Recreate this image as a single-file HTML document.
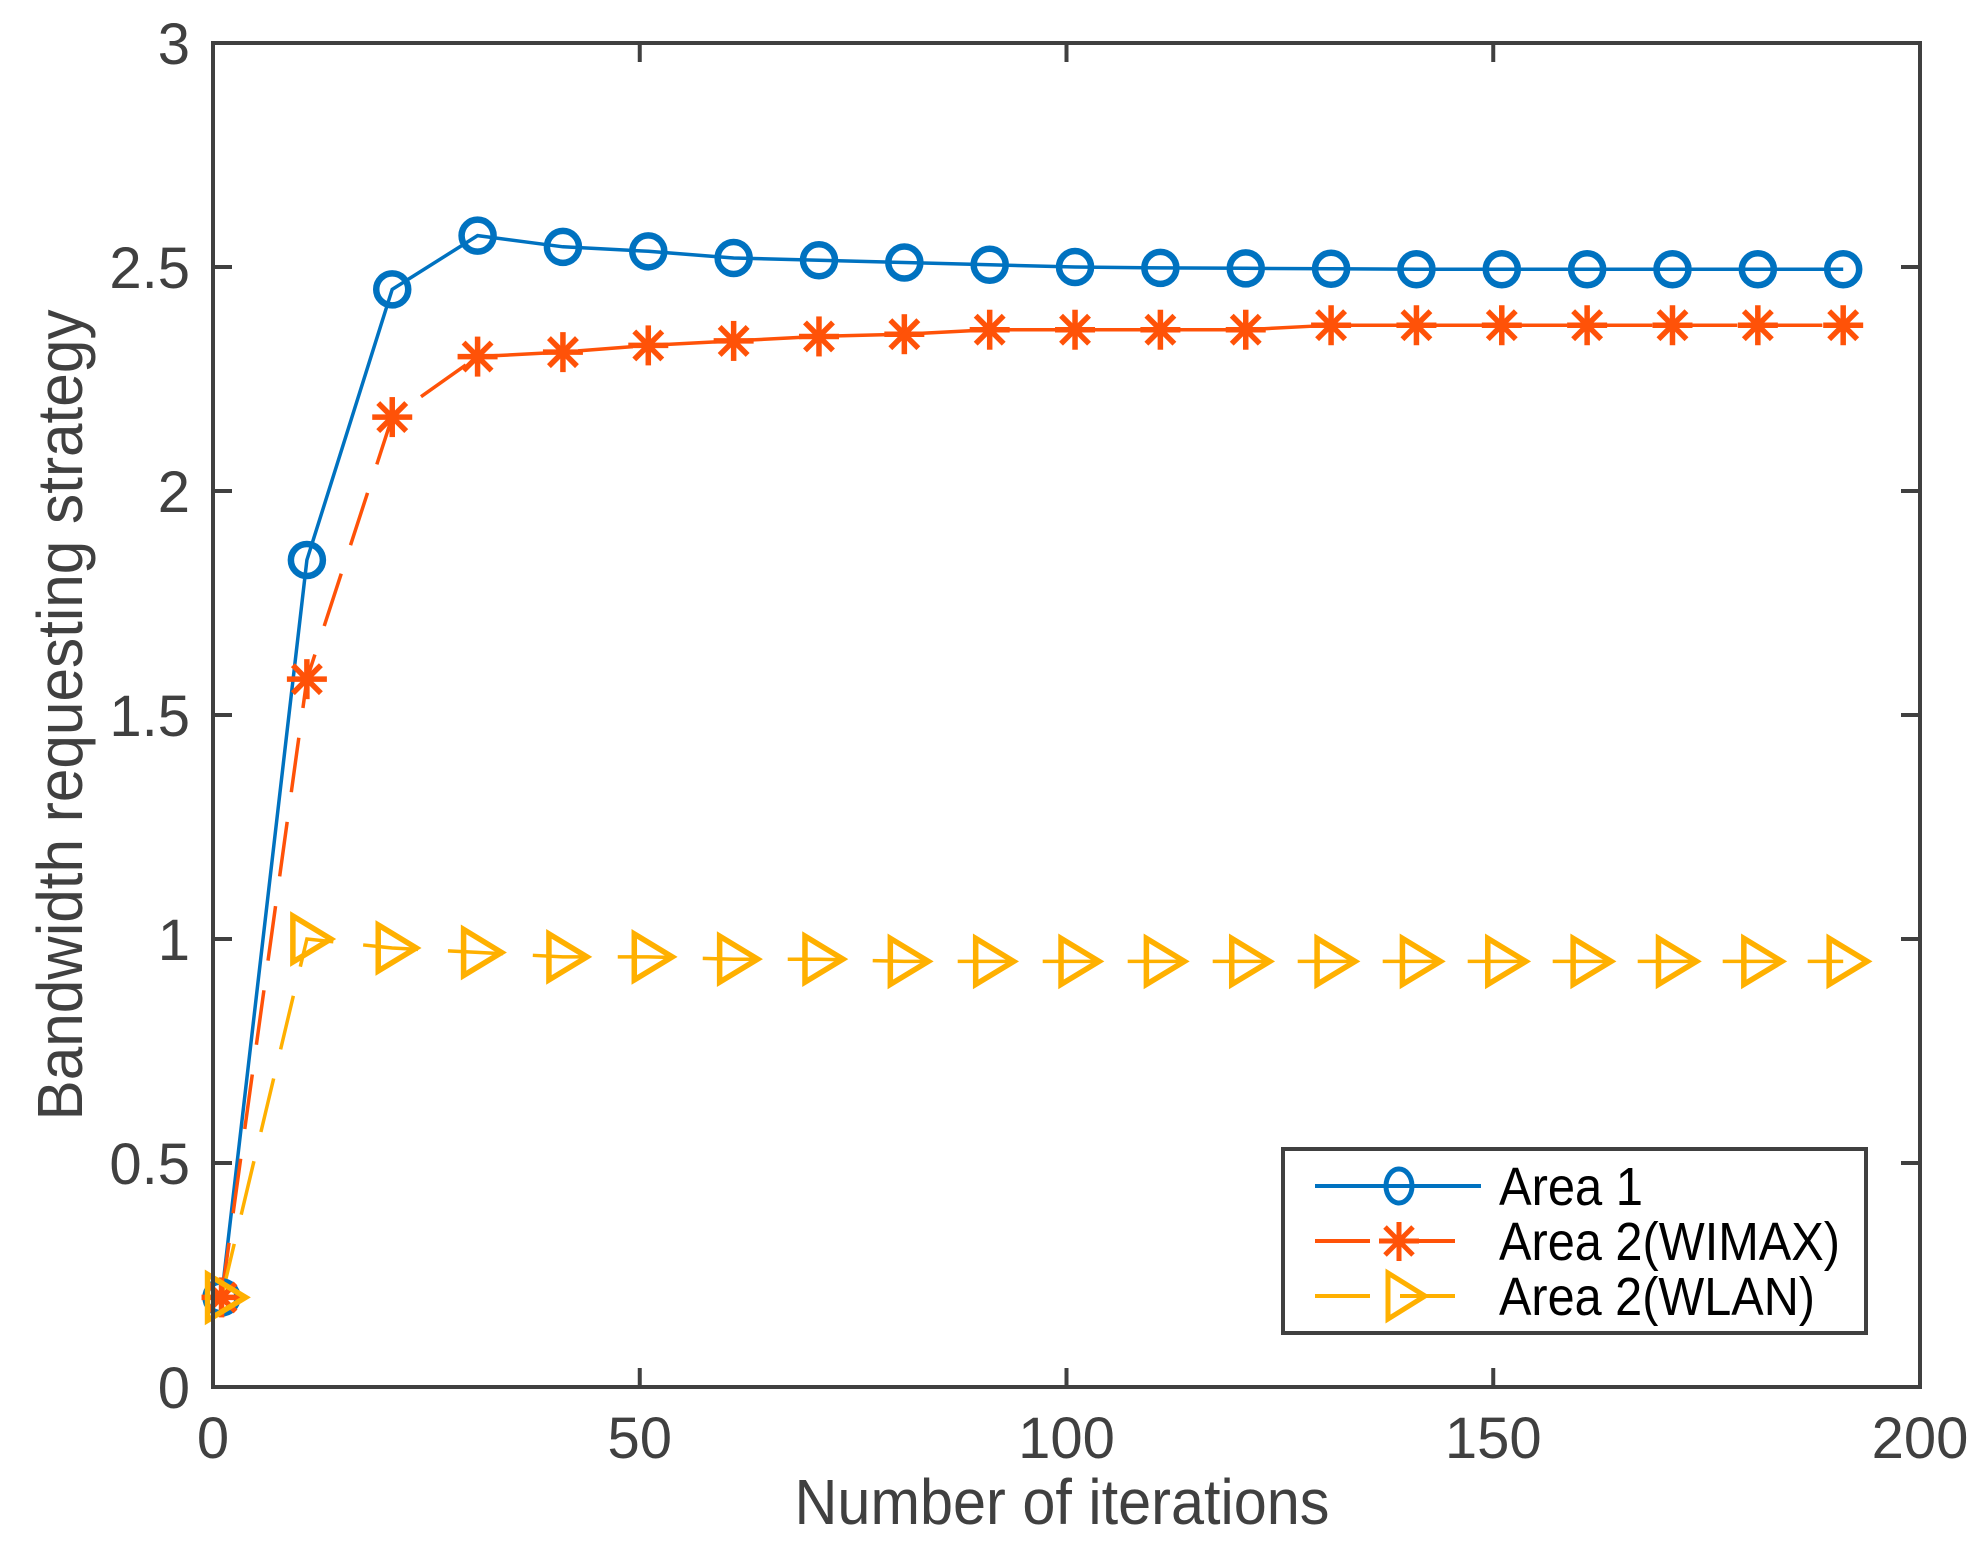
<!DOCTYPE html>
<html><head><meta charset="utf-8"><style>html,body{margin:0;padding:0;background:#fff}svg{display:block}</style></head>
<body>
<svg id="s" width="1980" height="1550" xmlns="http://www.w3.org/2000/svg" font-family="Liberation Sans, sans-serif">
<rect width="1980" height="1550" fill="#fff"/>
<g id="plot"></g>
<rect x="213" y="43" width="1707" height="1344" fill="none" stroke="#404040" stroke-width="4"/>
<g id="ticks" stroke="#404040" stroke-width="4"></g>
<g fill="#404040" font-size="58" id="labels"></g>
<text x="1062" y="1524" font-size="64" fill="#404040" text-anchor="middle" textLength="535" lengthAdjust="spacingAndGlyphs">Number of iterations</text>
<text transform="translate(82,715) rotate(-90)" font-size="64" fill="#404040" text-anchor="middle" textLength="811" lengthAdjust="spacingAndGlyphs">Bandwidth requesting strategy</text>
<rect x="1283" y="1149" width="583" height="184" fill="#fff" stroke="#404040" stroke-width="4"/>
<line x1="1315" y1="1186" x2="1481" y2="1186" stroke="#0072C0" stroke-width="4"/>
<ellipse cx="1399" cy="1186" rx="13" ry="17" fill="none" stroke="#0072C0" stroke-width="5"/>
<line x1="1315" y1="1241" x2="1460" y2="1241" stroke="#FF5208" stroke-width="4" stroke-dasharray="55,30"/>
<g stroke="#FF5208" stroke-width="5"><line x1="1399" y1="1222" x2="1399" y2="1261"/><line x1="1379" y1="1241" x2="1419" y2="1241"/><line x1="1385" y1="1227" x2="1413" y2="1255"/><line x1="1385" y1="1255" x2="1413" y2="1227"/></g>
<line x1="1315" y1="1296" x2="1460" y2="1296" stroke="#FFB000" stroke-width="4" stroke-dasharray="55,30"/>
<polygon points="1388,1273 1388,1319 1425,1296" fill="none" stroke="#FFB000" stroke-width="5"/>
<g font-size="54" fill="#000"><text x="1499" y="1205" textLength="144" lengthAdjust="spacingAndGlyphs">Area 1</text><text x="1499" y="1260" textLength="341" lengthAdjust="spacingAndGlyphs">Area 2(WIMAX)</text><text x="1499" y="1315" textLength="316" lengthAdjust="spacingAndGlyphs">Area 2(WLAN)</text></g>
</svg>
<script>
var X=function(v){return 213+v*8.535},Y=function(v){return 1387-v*448};
var xs=[];for(var i=1;i<=191;i+=10)xs.push(i);
var a=[0.2,1.846,2.45,2.57,2.545,2.535,2.52,2.515,2.51,2.505,2.5,2.498,2.497,2.496,2.495,2.495,2.495,2.495,2.495,2.495];
var b=[0.2,1.58,2.165,2.3,2.31,2.325,2.335,2.345,2.35,2.36,2.36,2.36,2.36,2.37,2.37,2.37,2.37,2.37,2.37,2.37];
var c=[0.2,1.0,0.98,0.97,0.96,0.96,0.955,0.955,0.95,0.95,0.95,0.95,0.95,0.95,0.95,0.95,0.95,0.95,0.95,0.95];
var h='';
function pl(d,col,dash){var p=xs.map(function(x,i){return X(x).toFixed(1)+','+Y(d[i]).toFixed(1)}).join(' ');
h+='<polyline points="'+p+'" fill="none" stroke="'+col+'" stroke-width="3.5"'+(dash?' stroke-dasharray="55,30"':'')+'/>';}
pl(a,'#0072C0');pl(b,'#FF5208',1);pl(c,'#FFB000',1);
xs.forEach(function(x,i){var cx=X(x),cy=Y(a[i]);h+='<circle cx="'+cx+'" cy="'+cy+'" r="16" fill="none" stroke="#0072C0" stroke-width="6.5"/>';});
xs.forEach(function(x,i){var cx=X(x),cy=Y(b[i]);h+='<g stroke="#FF5208" stroke-width="5.5"><line x1="'+cx+'" y1="'+(cy-20)+'" x2="'+cx+'" y2="'+(cy+20)+'"/><line x1="'+(cx-20)+'" y1="'+cy+'" x2="'+(cx+20)+'" y2="'+cy+'"/><line x1="'+(cx-14)+'" y1="'+(cy-14)+'" x2="'+(cx+14)+'" y2="'+(cy+14)+'"/><line x1="'+(cx-14)+'" y1="'+(cy+14)+'" x2="'+(cx+14)+'" y2="'+(cy-14)+'"/></g>';});
xs.forEach(function(x,i){var cx=X(x),cy=Y(c[i]);h+='<polygon points="'+(cx-14)+','+(cy-23)+' '+(cx-14)+','+(cy+23)+' '+(cx+24)+','+cy+'" fill="none" stroke="#FFB000" stroke-width="5.5"/>';});
document.getElementById('plot').innerHTML=h;
var t='',l='';
for(var v=0;v<=200;v+=50){var x=X(v);t+='<line x1="'+x+'" y1="1387" x2="'+x+'" y2="1368"/><line x1="'+x+'" y1="43" x2="'+x+'" y2="62"/>';l+='<text x="'+x+'" y="1458" text-anchor="middle">'+v+'</text>';}
for(var k=0;k<=6;k++){var v=k*0.5,y=Y(v);t+='<line x1="213" y1="'+y+'" x2="232" y2="'+y+'"/><line x1="1920" y1="'+y+'" x2="1901" y2="'+y+'"/>';l+='<text x="190" y="'+(y+21)+'" text-anchor="end">'+v+'</text>';}
document.getElementById('ticks').innerHTML=t;document.getElementById('labels').innerHTML=l;
</script>
</body></html>
